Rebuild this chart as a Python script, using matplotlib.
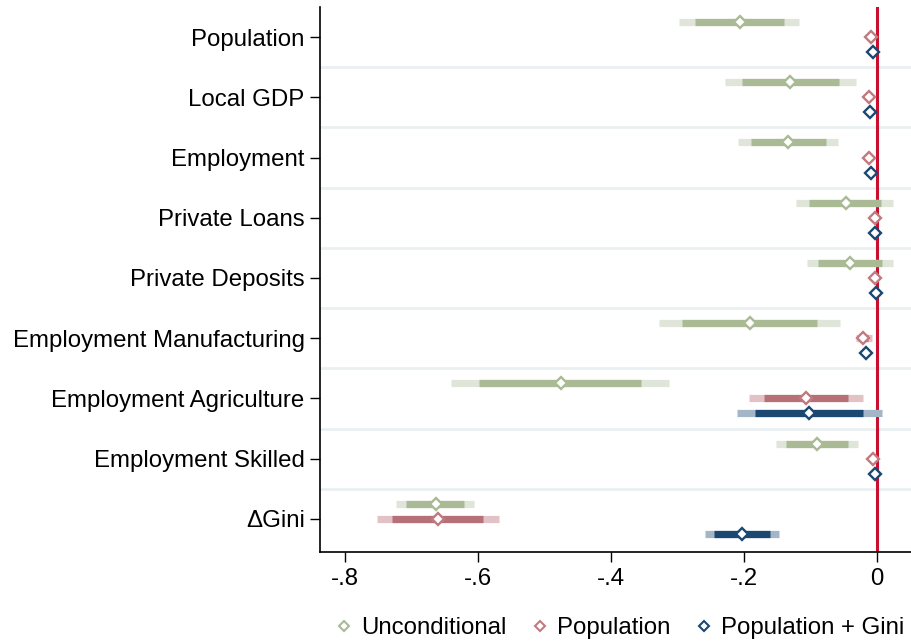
import matplotlib
matplotlib.use("Agg")
import matplotlib.pyplot as plt
from matplotlib.lines import Line2D
import numpy as np

plt.rcParams["font.family"] = ["Liberation Sans", "DejaVu Sans"]

categories = ["Population", "Local GDP", "Employment", "Private Loans",
              "Private Deposits", "Employment Manufacturing",
              "Employment Agriculture", "Employment Skilled", "\u0394Gini"]
series_names = ["Unconditional", "Population", "Population + Gini"]

# point estimates
est_uncond = [-0.206, -0.131, -0.134, -0.047, -0.040, -0.191, -0.476, -0.090, -0.664]
est_pop = [-0.009, -0.012, -0.011, -0.003, -0.002, -0.020, -0.107, -0.006, -0.661]
est_popgini = [-0.006, -0.010, -0.008, -0.002, -0.001, -0.016, -0.102, -0.003, -0.203]

# 90% intervals (dark) and 95% intervals (light)
lo90_uncond = [-0.273, -0.203, -0.189, -0.102, -0.088, -0.293, -0.598, -0.136, -0.708]
hi90_uncond = [-0.140, -0.057, -0.077, 0.007, 0.008, -0.090, -0.355, -0.044, -0.621]
lo95_uncond = [-0.297, -0.228, -0.209, -0.121, -0.105, -0.328, -0.641, -0.152, -0.723]
hi95_uncond = [-0.117, -0.032, -0.059, 0.025, 0.025, -0.055, -0.312, -0.028, -0.606]

lo90_pop = [-0.012, -0.015, -0.014, -0.006, -0.005, -0.027, -0.170, -0.009, -0.729]
hi90_pop = [-0.006, -0.009, -0.008, 0.000, 0.001, -0.013, -0.043, -0.003, -0.593]
lo95_pop = [-0.013, -0.016, -0.015, -0.007, -0.006, -0.032, -0.192, -0.010, -0.752]
hi95_pop = [-0.005, -0.008, -0.007, 0.001, 0.002, -0.007, -0.021, -0.002, -0.569]

lo90_popgini = [-0.008, -0.012, -0.010, -0.004, -0.003, -0.019, -0.183, -0.005, -0.245]
hi90_popgini = [-0.004, -0.008, -0.006, 0.000, 0.001, -0.013, -0.020, -0.001, -0.161]
lo95_popgini = [-0.009, -0.013, -0.011, -0.005, -0.004, -0.021, -0.211, -0.006, -0.259]
hi95_popgini = [-0.003, -0.007, -0.005, 0.001, 0.002, -0.011, 0.008, 0.000, -0.147]

xticks = [-0.8, -0.6, -0.4, -0.2, 0.0]
xticklabels = ["-.8", "-.6", "-.4", "-.2", "0"]

dark_colors = ["#a9ba95", "#b57177", "#1b4872"]
light_colors = ["#dfe5d8", "#e2c2c6", "#a3b6c8"]
edge_colors = ["#a9ba95", "#c07a80", "#1b4872"]

fig = plt.figure(figsize=(9.12, 6.42), dpi=100)
ax = fig.add_axes([320 / 912, 1 - 551.7 / 642, 1 - 320 / 912, (551.7 - 7) / 642])

n = len(categories)
series = [
    (est_uncond, lo90_uncond, hi90_uncond, lo95_uncond, hi95_uncond),
    (est_pop, lo90_pop, hi90_pop, lo95_pop, hi95_pop),
    (est_popgini, lo90_popgini, hi90_popgini, lo95_popgini, hi95_popgini),
]

# light separators between categories
for i in range(1, n):
    ax.axhline(4 * i, color="#eaf0f2", lw=2.0, zorder=0)

ax.axvline(0, color="#c8102e", lw=2.2, zorder=1)

for s, (est, lo90, hi90, lo95, hi95) in enumerate(series):
    ys = np.arange(n) * 4 + 1 + s
    for k in range(n):
        ax.plot([lo95[k], hi95[k]], [ys[k], ys[k]], color=light_colors[s],
                lw=5.2, solid_capstyle="butt", zorder=2)
        ax.plot([lo90[k], hi90[k]], [ys[k], ys[k]], color=dark_colors[s],
                lw=5.2, solid_capstyle="butt", zorder=3)
    ax.plot(est, ys, linestyle="none", marker="D", markersize=6.6,
            markerfacecolor="white", markeredgecolor=edge_colors[s],
            markeredgewidth=1.7, zorder=4)

ax.set_xlim(-0.838, 0.053)
ax.set_ylim(36.18, 0)
ax.set_yticks(np.arange(n) * 4 + 2)
ax.set_yticklabels(categories, fontsize=17.3)
ax.set_xticks(xticks)
ax.set_xticklabels(xticklabels, fontsize=17.3)
ax.tick_params(axis="y", length=7, width=1, pad=4)
ax.tick_params(axis="x", length=7, width=1, pad=5)

for side in ["top", "right"]:
    ax.spines[side].set_visible(False)
ax.spines["left"].set_linewidth(1.2)
ax.spines["bottom"].set_linewidth(1.2)

handles = [Line2D([], [], linestyle="none", marker="D", markersize=5.5,
                  markerfacecolor="white", markeredgecolor=edge_colors[s],
                  markeredgewidth=1.5) for s in range(3)]
fig.legend(handles, series_names, loc="center", bbox_to_anchor=(0.678, 1 - 628 / 642),
           ncol=3, frameon=False, fontsize=17.3, handletextpad=0.2,
           columnspacing=0.9, handlelength=1.0)

fig.savefig("out.png", dpi=100)
